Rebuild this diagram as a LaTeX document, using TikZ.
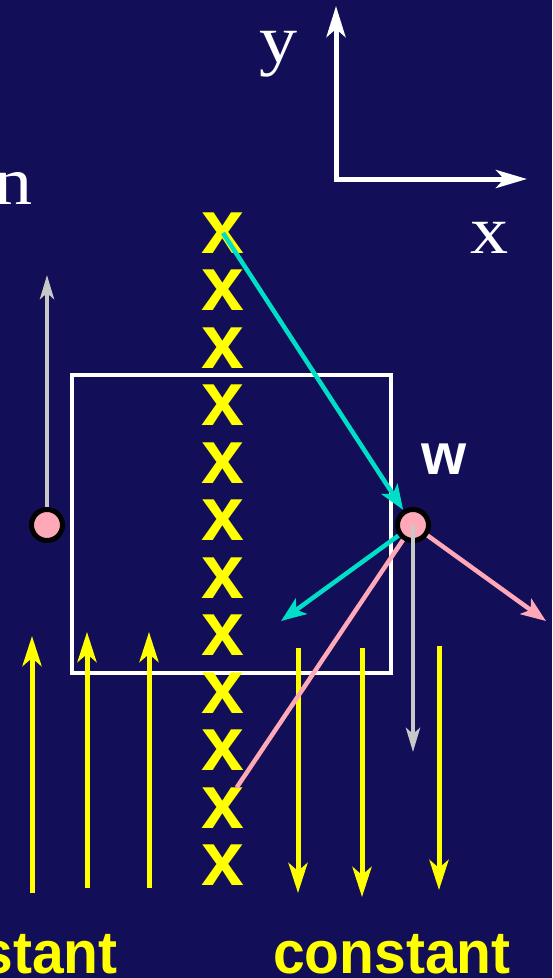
\documentclass[tikz,border=0pt]{standalone}
\usepackage{fontspec}
\setmainfont{Liberation Serif}
\setsansfont{Liberation Sans}
\newfontfamily\axisfont[FakeStretch=1.12]{Liberation Serif}
\newfontfamily\tagfont[FakeStretch=0.95]{Liberation Sans}
\usepackage{xcolor}
\usetikzlibrary{arrows.meta,positioning,calc}
\definecolor{slidebg}{RGB}{18,14,88}
\definecolor{xyellow}{RGB}{255,255,0}
\definecolor{tealarr}{RGB}{0,222,200}
\definecolor{pinkarr}{RGB}{255,168,184}
\definecolor{grayarr}{RGB}{200,200,200}

\begin{document}
\begin{tikzpicture}[x=1pt, y=-1pt, >=Stealth,
  ax/.style={draw=white, line width=5pt, {Stealth[length=31pt,width=19pt,inset=8pt]}-{Stealth[length=31pt,width=18pt,inset=8pt]}},
  flux/.style={draw=xyellow, line width=5pt, -{Stealth[length=30pt,width=19pt,inset=8pt]}},
  vec/.style={draw=#1, line width=4.5pt, -{Stealth[length=25pt,width=19pt,inset=6pt]}},
  gvec/.style={draw=grayarr, line width=4.5pt, -{Stealth[length=24pt,width=14pt,inset=6pt]}},
  lbl/.style={text=white, inner sep=0pt, font=\axisfont\fontsize{68}{70}\selectfont},
  xmark/.style={text=xyellow, inner sep=0pt, font=\sffamily\bfseries\fontsize{77}{80}\selectfont},
  pt/.style={circle, draw=black, line width=5pt, fill=pinkarr, minimum size=31pt, inner sep=0pt},
  tag/.style={text=xyellow, inner sep=0pt, anchor=base east, font=\tagfont\bfseries\fontsize{60}{64}\selectfont}]
\fill[slidebg] (0,0) rectangle (552,978);
\useasboundingbox (0,0) rectangle (552,978);

% box and field lines
\node[draw=white, line width=4pt, minimum width=319pt, minimum height=298pt] (box) at (231.5,524) {};
\foreach \n/\px/\ya/\yb in {u1/32/893/636, u2/87/888/632, u3/149/888/632, d1/298/648/893, d2/362/648/897, d3/439/646/890} {
  \coordinate (\n-s) at (\px,\ya);
  \coordinate (\n-e) at (\px,\yb);
  \draw[flux] (\n-s) -- (\n-e);
}

% axes
\coordinate (ytip) at (336,6);
\coordinate (xtip) at (527,179);
\draw[ax] (ytip) |- (xtip);
\node[lbl, anchor=base] (ylab) at (279,62) {y};
\node[lbl, anchor=base] (xlab) at (490,253) {x};
\node[lbl, anchor=base east] (nlab) at (33,204) {n};

% charges
\foreach \i in {1,...,12}
  \node[xmark] (x\i) at (223,{233+(\i-1)*57.5}) {x};
\node[pt] (wl) at (47,525) {};
\node[pt] (w) at (413,525) {};
\node[text=white, inner sep=0pt, font=\sffamily\bfseries\fontsize{58}{60}\selectfont] (wlab) at (444,459) {w};
\draw[pinkarr, line width=4.5pt] (w) -- (x11);

% vectors
\coordinate (wltip) at (47,275);
\coordinate (wtip) at (413,752);
\coordinate (ctip) at (281,621);
\coordinate (ptip) at (546,621);
\draw[gvec] (wl) -- (wltip);
\draw[gvec] (w.center) -- (wtip);
\draw[vec=tealarr] (x1.center) -- (w);
\draw[vec=tealarr] (w) -- (ctip);
\draw[vec=pinkarr] (w) -- (ptip);

\node[tag] (lconst) at (118,973) {constant};
\node[tag] (rconst) at (511,973) {constant};
\end{tikzpicture}
\end{document}
